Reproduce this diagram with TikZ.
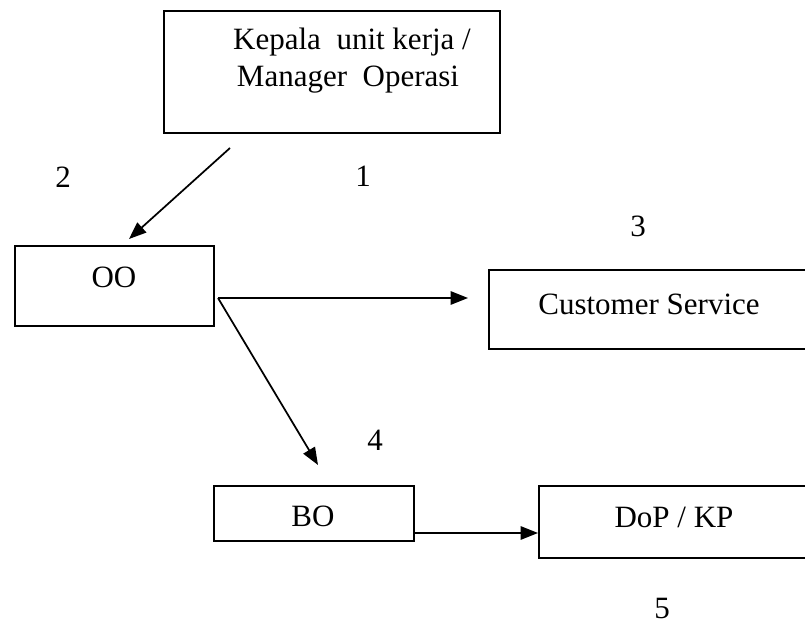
\documentclass[tikz,border=0pt]{standalone}
\usepackage{fontspec}
\setmainfont{Liberation Serif}
\usetikzlibrary{arrows.meta}
\begin{document}
\begin{tikzpicture}[x=0.75pt,y=-0.75pt,
  box/.style={draw, line width=1.4pt, inner sep=0pt, anchor=north west},
  lbl/.style={inner sep=0pt, anchor=base, font=\fontsize{23.25}{28}\selectfont},
  conn/.style={line width=1.3pt, -{Triangle[length=13pt,width=10pt]}}]
\useasboundingbox (0,0) rectangle (805,623);
\clip (0,0) rectangle (805,623);

% boxes
\node[box, minimum width=252pt, minimum height=91.5pt] (kepala) at (163,10) {};
\node[box, minimum width=149.25pt, minimum height=60pt] (oo) at (14,245) {};
\node[box, minimum width=241.5pt, minimum height=59.25pt] (cs) at (488,269) {};
\node[box, minimum width=150pt, minimum height=41.25pt] (bo) at (213,485) {};
\node[box, minimum width=204pt, minimum height=54pt] (dop) at (538,485) {};

% box texts
\node[lbl] (kepala-a) at (352,50) {Kepala\ \ unit kerja /};
\node[lbl] (kepala-b) at (348,87) {Manager\ \ Operasi};
\node[lbl] (oo-t) at (114,287) {OO};
\node[lbl] (cs-t) at (649,314) {Customer Service};
\node[lbl] (bo-t) at (313,526) {BO};
\node[lbl] (dop-t) at (674,527) {DoP / KP};

% step numbers
\node[lbl] (n1) at (363,187) {1};
\node[lbl] (n2) at (63,188) {2};
\node[lbl] (n3) at (638,237) {3};
\node[lbl] (n4) at (375,450) {4};
\node[lbl] (n5) at (662,618) {5};

% connector ends
\coordinate (k-out) at (230,148);
\coordinate (oo-in) at (129,239);
\coordinate (oo-out) at (218,298);
\coordinate (cs-in) at (468,298);
\coordinate (bo-in) at (318,465);
\coordinate (bo-out) at (413,533);

% connectors
\draw[conn] (k-out) -- (oo-in);
\draw[conn] (oo-out) -- (cs-in);
\draw[conn] (oo-out) -- (bo-in);
\draw[conn] (bo-out) -- (dop.west |- bo-out);
\end{tikzpicture}
\end{document}
